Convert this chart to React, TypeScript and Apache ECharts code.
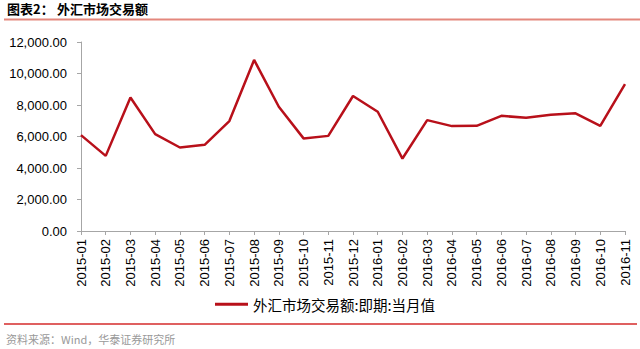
import React, { useEffect, useRef } from "react";
import * as echarts from "echarts";

const categories = [
  "2015-01", "2015-02", "2015-03", "2015-04", "2015-05", "2015-06",
  "2015-07", "2015-08", "2015-09", "2015-10", "2015-11", "2015-12",
  "2016-01", "2016-02", "2016-03", "2016-04", "2016-05", "2016-06",
  "2016-07", "2016-08", "2016-09", "2016-10", "2016-11",
];
const seriesName = "外汇市场交易额:即期:当月值";
const values = [
  6090, 4770, 8480, 6150, 5300, 5470, 6980, 10860, 7890, 5880, 6040, 8570,
  7570, 4600, 7040, 6660, 6680, 7310, 7190, 7380, 7470, 6680, 9330,
];
const yTicks = { min: 0, max: 12000, interval: 2000 };

const fmt = (v: number) =>
  v.toLocaleString("en-US", { minimumFractionDigits: 2, maximumFractionDigits: 2 });

export default function App() {
  const ref = useRef<HTMLDivElement>(null);
  useEffect(() => {
    document.body.style.margin = "0";
    const chart = echarts.init(ref.current!, null, { renderer: "svg" });
    chart.setOption({
      animation: false,
      backgroundColor: "#ffffff",
      grid: { left: 81, right: 15, top: 42, bottom: 118, containLabel: false },
      xAxis: {
        type: "category",
        data: categories,
        boundaryGap: false,
        axisLine: { lineStyle: { color: "#a6a6a6", width: 1 } },
        axisTick: { show: true, length: 4, lineStyle: { color: "#a6a6a6" } },
        axisLabel: {
          rotate: 90,
          interval: 0,
          margin: 8,
          color: "#000",
          fontSize: 13,
          fontFamily: "Liberation Sans, Arial, sans-serif",
        },
      },
      yAxis: {
        type: "value",
        min: yTicks.min,
        max: yTicks.max,
        interval: yTicks.interval,
        axisLine: { show: true, lineStyle: { color: "#a6a6a6", width: 1 } },
        axisTick: { show: true, length: 4, lineStyle: { color: "#a6a6a6" } },
        splitLine: { show: false },
        axisLabel: {
          margin: 14,
          color: "#000",
          fontSize: 13,
          fontFamily: "Liberation Sans, Arial, sans-serif",
          formatter: (v: number) => fmt(v),
        },
      },
      legend: {
        left: 210,
        top: 292,
        itemWidth: 33,
        itemHeight: 3,
        itemGap: 5,
        data: [{ name: seriesName, icon: "rect" }],
        textStyle: {
          fontSize: 14.5,
          color: "#000",
          fontFamily: "Noto Sans CJK SC",
          padding: [0, 0, 0, 0],
        },
      },
      series: [
        {
          name: seriesName,
          type: "line",
          data: values,
          showSymbol: false,
          symbol: "none",
          lineStyle: { color: "#b8101a", width: 2.5 },
          itemStyle: { color: "#b8101a" },
        },
      ],
      graphic: [
        {
          type: "text",
          left: 7,
          top: 2,
          style: {
            text: "图表2：",
            font: "bold 13px 'Noto Sans CJK SC'",
            fill: "#000",
          },
        },
        {
          type: "text",
          left: 57,
          top: 2,
          style: {
            text: "外汇市场交易额",
            font: "bold 13px 'Noto Sans CJK SC'",
            fill: "#000",
          },
        },
        {
          type: "line",
          shape: { x1: 4, y1: 19.5, x2: 640, y2: 19.5 },
          style: { stroke: "#e4877d", lineWidth: 2 },
        },
        {
          type: "line",
          shape: { x1: 4, y1: 324, x2: 637, y2: 324 },
          style: { stroke: "#d42b2b", lineWidth: 1.5 },
        },
        {
          type: "text",
          left: 6,
          top: 333,
          style: {
            text: "资料来源：Wind，华泰证券研究所",
            font: "11px 'Noto Sans CJK SC'",
            fill: "#999999",
          },
        },
      ],
    });
    return () => chart.dispose();
  }, []);
  return <div ref={ref} style={{ width: 640, height: 349 }} />;
}
